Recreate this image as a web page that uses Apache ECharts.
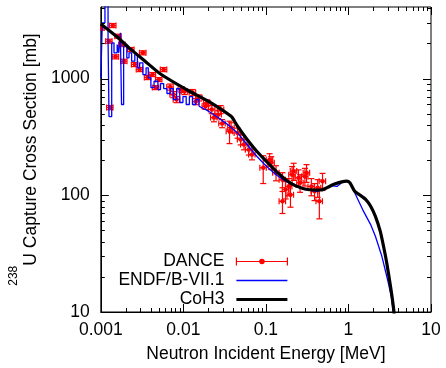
<!DOCTYPE html>
<html><head><meta charset="utf-8">
<script src="https://cdn.jsdelivr.net/npm/echarts@6/dist/echarts.min.js"></script>
<style>html,body{margin:0;padding:0;background:#fff}#c{width:446px;height:368px}</style>
</head><body><div id="c"></div>
<script>
// ---- axis ticks ----
const xMajor = [0.001, 0.01, 0.1, 1, 10];
const xMinor = [0.002,0.003,0.004,0.005,0.006,0.007,0.008,0.009,
                0.02,0.03,0.04,0.05,0.06,0.07,0.08,0.09,
                0.2,0.3,0.4,0.5,0.6,0.7,0.8,0.9,
                2,3,4,5,6,7,8,9];
const yMajor = [10, 100, 1000];
const yMinor = [20,30,40,50,60,70,80,90,200,300,400,500,600,700,800,900,2000,3000,4000];

// ---- DANCE (energy MeV, cross section mb, half bin width, sigma error) ----
const danceE  = [0.001008,0.001256,0.00129,0.0014,0.001508,0.001622,0.001806,0.001905,0.002317,0.00258,
                 0.002951,0.003233,0.003697,0.004229,0.004621,0.005049,0.005774,0.006913,0.007552,0.008275,
                 0.009464,0.01034,0.01292,0.01416,0.01547,0.01852,0.01934,0.02211,0.02346,0.02647,
                 0.02831,0.02948,0.03624,0.03784,0.0453,0.04949,0.05421,0.06201,0.06775,0.09276,
                 0.1108,0.1159,0.1326,0.1587,0.1587,0.1734,0.1895,0.1984,0.2077,0.2168,
                 0.2479,0.2594,0.2968,0.3106,0.3551,0.3881,0.424,0.4439,0.4851];
const danceXS = [2708,2087,564,2846,1535,2304,1956,1407,1772,1318,
                 1194,1661,1020,1082,837,980,1194,846,729,661,
                 805,774,759,635,683,579,619,543,463,491,
                 543,412,354,380,342,300,272,246,223,172,
                 202,190,156,136,88.8,112,119,101,150,161,
                 141,128,145,156,119,108,116,88.8,132];
const danceDE = [0.0000907,0.000113,0.000116,0.000126,0.000136,0.000146,0.000163,0.000171,0.000209,0.000232,
                 0.000266,0.000291,0.000333,0.000381,0.000416,0.000454,0.00052,0.000622,0.00068,0.000745,
                 0.000852,0.00093,0.00116,0.00127,0.00139,0.00167,0.00174,0.00199,0.00211,0.00238,
                 0.00255,0.00265,0.00326,0.00341,0.00408,0.00445,0.00488,0.00558,0.0061,0.00835,
                 0.00997,0.0104,0.0119,0.0143,0.0143,0.0156,0.0171,0.0179,0.0187,0.0195,
                 0.0223,0.0233,0.0267,0.028,0.032,0.0349,0.0382,0.04,0.0437];
const danceDXS = [108,83,23,114,61,92,78,56,71,53,
                  48,66,41,43,33,39,48,51,44,40,
                  48,46,46,38,41,35,37,43,37,39,
                  43,33,77,38,34,30,27,25,22,46,
                  25,24,23,20,19,19,20,22,26,27,
                  24,22,25,27,20,18,20,26,22];

// ---- ENDF/B-VII.1: resonance-region histogram (bin start energy, value) ----
const endfHistE  = [0.001,0.001041,0.001122,0.001223,0.001256,0.001354,0.001444,0.001578,0.001652,0.001725,
                    0.001781,0.001889,0.002064,0.002196,0.002361,0.00258,0.002774,0.002951,0.003233,0.003532,
                    0.003757,0.004041,0.004414,0.004916,0.005285,0.005774,0.006326,0.006913,0.007552,0.008275,
                    0.009043,0.00988,0.01082,0.01183,0.01292,0.01416,0.01547];
const endfHistXS = [1000,3000,6000,2160,472,2023,1661,1956,1661,2464,
                    599,1892,1504,1661,1407,1606,1235,1363,1082,1235,
                    1014,837,948,805,906,821,744,821,661,821,
                    623,701,599,701,599,661,579];
// ---- ENDF/B-VII.1: smooth part ----
const endfE  = [0.01547,0.0202,0.0265,0.0346,0.0453,0.0592,0.0774,0.1014,0.1326,0.1734,
                0.227,0.297,0.424,0.608,0.725,0.83,0.948,1.04,1.19,1.486,
                1.857,2.12,2.54,3.04,3.33,3.48,3.7];
const endfXS = [579,525,461,403,342,272,216,177,150,132,
                119,112,108,121,119,128,132,128,105,75.4,
                56.1,44.5,30,17.8,13.2,10,7];

// ---- CoH3 ----
const cohE  = [0.001,0.00154,0.0022,0.00344,0.00539,0.01183,0.0202,0.0379,0.0412,0.0453,0.0592,
               0.0774,0.1014,0.1326,0.1734,0.227,0.321,0.465,0.664,0.948,1.04,
               1.19,1.36,1.624,1.857,2.12,2.43,2.66,2.91,3.18,3.39,3.56,3.8];
const cohXS = [2930,2300,1832,1407,1082,778,638,475,437,390,300,
               238,195,161,136,121,112,111,124,132,128,
               108,101,91.9,80.5,66,49.1,36.6,26.3,17.8,13.2,10,6];

const FONT = '"Liberation Sans", Arial, Helvetica, sans-serif';
const FS = 17.5;
const RED = '#ff0000', BLUE = '#0000ff', BLACK = '#000000';

const zip = (a, b) => a.map((v, i) => [v, b[i]]);
const danceData = danceE.map((e, i) => [e, danceXS[i], danceDE[i], danceDXS[i]]);
const xTickData = xMajor.map(v => [v, 100, 1]).concat(xMinor.map(v => [v, 100, 0]));
const yTickData = yMajor.map(v => [1, v, 1]).concat(yMinor.map(v => [1, v, 0]));

function pick(v, list) {
  return list.find(t => Math.abs(Math.log10(v) - Math.log10(t)) < 1e-6);
}

function tickRenderer(isX) {
  return function (params, api) {
    const cs = params.coordSys;
    const major = api.value(2) === 1;
    const len = major ? 8 : 4;
    const st = { stroke: BLACK, lineWidth: 1 };
    if (isX) {
      const px = Math.round(api.coord([api.value(0), 100])[0]) + 0.5;
      const b = cs.y + cs.height, t = cs.y;
      return { type: 'group', children: [
        { type: 'line', shape: { x1: px, y1: b, x2: px, y2: b - len }, style: st },
        { type: 'line', shape: { x1: px, y1: t, x2: px, y2: t + len }, style: st }
      ]};
    } else {
      const py = Math.round(api.coord([1, api.value(1)])[1]) + 0.5;
      const l = cs.x, r = cs.x + cs.width;
      return { type: 'group', children: [
        { type: 'line', shape: { x1: l, y1: py, x2: l + len, y2: py }, style: st },
        { type: 'line', shape: { x1: r, y1: py, x2: r - len, y2: py }, style: st }
      ]};
    }
  };
}

function errRender(params, api) {
  const E = api.value(0), s = api.value(1), dE = api.value(2), ds = api.value(3);
  const c = api.coord([E, s]);
  const xl = api.coord([E - dE, s])[0], xr = api.coord([E + dE, s])[0];
  const yt = api.coord([E, s + ds])[1], yb = api.coord([E, s - ds])[1];
  const cap = 3;
  const st = { stroke: RED, lineWidth: 1.2 };
  return { type: 'group', children: [
    { type: 'line', shape: { x1: xl, y1: c[1], x2: xr, y2: c[1] }, style: st },
    { type: 'line', shape: { x1: xl, y1: c[1] - cap, x2: xl, y2: c[1] + cap }, style: st },
    { type: 'line', shape: { x1: xr, y1: c[1] - cap, x2: xr, y2: c[1] + cap }, style: st },
    { type: 'line', shape: { x1: c[0], y1: yt, x2: c[0], y2: yb }, style: st },
    { type: 'line', shape: { x1: c[0] - cap, y1: yt, x2: c[0] + cap, y2: yt }, style: st },
    { type: 'line', shape: { x1: c[0] - cap, y1: yb, x2: c[0] + cap, y2: yb }, style: st },
    { type: 'circle', shape: { cx: c[0], cy: c[1], r: 2.2 }, style: { fill: RED } }
  ]};
}

const chart = echarts.init(document.getElementById('c'), null, { renderer: 'canvas' });
chart.setOption({
  animation: false,
  backgroundColor: '#ffffff',
  grid: { left: 88, right: 15, top: 7, bottom: 56, show: true, borderColor: BLACK, borderWidth: 1, containLabel: false },
  xAxis: {
    type: 'log', logBase: 10, min: 0.001, max: 10,
    axisLine: { show: true, lineStyle: { color: BLACK, width: 1 } },
    axisTick: { show: false }, minorTick: { show: false }, splitLine: { show: false },
    axisLabel: { color: BLACK, fontSize: FS, fontFamily: FONT, margin: 9,
      formatter: v => { const t = pick(v, xMajor); return t === undefined ? '' : String(t); } },
    name: 'Neutron Incident Energy [MeV]', nameLocation: 'middle', nameGap: 33,
    nameTextStyle: { color: BLACK, fontSize: FS, fontFamily: FONT }
  },
  yAxis: {
    type: 'log', logBase: 10, min: 10, max: 4100,
    axisLine: { show: true, lineStyle: { color: BLACK, width: 1 } },
    axisTick: { show: false }, minorTick: { show: false }, splitLine: { show: false },
    axisLabel: { color: BLACK, fontSize: FS, fontFamily: FONT, margin: 11,
      formatter: v => { const t = pick(v, yMajor); return t === undefined ? '' : String(t); } },
    name: '{sup|238}{m|U Capture Cross Section [mb]}', nameLocation: 'middle', nameGap: 50, nameRotate: 90,
    nameTextStyle: { color: BLACK, fontSize: FS, fontFamily: FONT,
      rich: {
        sup: { fontSize: 12, fontFamily: FONT, color: BLACK, verticalAlign: 'top' },
        m: { fontSize: FS, fontFamily: FONT, color: BLACK, lineHeight: 32, verticalAlign: 'bottom' }
      } }
  },
  legend: {
    orient: 'vertical', align: 'right', right: 158, top: 252.5, padding: 0, itemGap: 1,
    itemWidth: 51, itemHeight: 10, symbolKeepAspect: true, selectedMode: false,
    textStyle: { color: BLACK, fontSize: FS, fontFamily: FONT, padding: [0, 7, 0, 0] },
    data: [
      { name: 'DANCE', icon: 'path://M0,0L0,8M0,4L51,4M51,0L51,8M23.3,4a2.2,2.2 0 1,0 4.4,0a2.2,2.2 0 1,0 -4.4,0',
        itemStyle: { color: RED, borderColor: RED, borderWidth: 1.2 } },
      { name: 'ENDF/B-VII.1', icon: 'path://M0,0h51v1.4h-51z', itemStyle: { color: BLUE, borderWidth: 0 } },
      { name: 'CoH3', icon: 'path://M0,0h51v3h-51z', itemStyle: { color: BLACK, borderWidth: 0 } }
    ]
  },
  series: [
    { name: 'DANCE', type: 'custom', renderItem: errRender, data: danceData,
      dimensions: ['E', 'xs', 'dE', 'dxs'], encode: { x: 0, y: 1 }, clip: true, z: 2, itemStyle: { color: RED } },
    { name: 'ENDF/B-VII.1', type: 'line', step: 'end', data: zip(endfHistE, endfHistXS), showSymbol: false,
      symbol: 'none', lineStyle: { color: BLUE, width: 1.3 }, itemStyle: { color: BLUE }, z: 3, clip: true },
    { name: 'ENDF/B-VII.1', type: 'line', data: zip(endfE, endfXS), showSymbol: false,
      symbol: 'none', lineStyle: { color: BLUE, width: 1.3 }, itemStyle: { color: BLUE }, z: 3, clip: true },
    { name: 'CoH3', type: 'line', data: zip(cohE, cohXS), showSymbol: false, symbol: 'none', smooth: 0.2,
      lineStyle: { color: BLACK, width: 3.2 }, itemStyle: { color: BLACK }, z: 4, clip: true },
    { name: 'xticks', type: 'custom', renderItem: tickRenderer(true), data: xTickData, silent: true, z: 10,
      dimensions: ['v', 'w', 'm'], encode: { x: 0, y: 1 } },
    { name: 'yticks', type: 'custom', renderItem: tickRenderer(false), data: yTickData, silent: true, z: 10,
      dimensions: ['w', 'v', 'm'], encode: { x: 0, y: 1 } }
  ]
});
</script>
</body></html>
